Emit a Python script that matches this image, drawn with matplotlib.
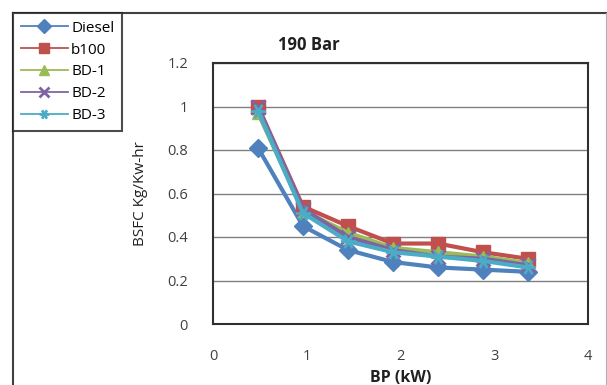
import matplotlib
matplotlib.use("Agg")
import matplotlib.pyplot as plt
from matplotlib.lines import Line2D
from matplotlib.path import Path

bp = [0.48, 0.96, 1.44, 1.92, 2.40, 2.88, 3.36]
diesel = [0.81, 0.45, 0.34, 0.285, 0.26, 0.25, 0.24]
b100 = [1.00, 0.54, 0.45, 0.37, 0.37, 0.33, 0.30]
bd1 = [0.97, 0.52, 0.42, 0.35, 0.33, 0.31, 0.28]
bd2 = [1.00, 0.53, 0.40, 0.34, 0.31, 0.30, 0.27]
bd3 = [0.98, 0.51, 0.38, 0.33, 0.31, 0.29, 0.26]
series_names = ["Diesel", "b100", "BD-1", "BD-2", "BD-3"]
x_ticks = [0, 1, 2, 3, 4]
y_ticks = [0, 0.2, 0.4, 0.6, 0.8, 1, 1.2]
y_ticklabels = ["0", "0.2", "0.4", "0.6", "0.8", "1", "1.2"]

plt.rcParams['font.family'] = ['Open Sans', 'DejaVu Sans']

fig = plt.figure(figsize=(6.07, 3.85), dpi=100)
W, H = 607, 385

# chart frame
fig.add_artist(Line2D([13/W, 1], [1-13/H, 1-13/H], transform=fig.transFigure, color='#404040', lw=1.5))
fig.add_artist(Line2D([13/W, 13/W], [0, 1-13/H], transform=fig.transFigure, color='#404040', lw=1.5))
fig.add_artist(Line2D([606/W, 606/W], [0, 1-13/H], transform=fig.transFigure, color='#b0b0b0', lw=0.8))

ax = fig.add_axes([213/W, 1-324/H, (588-213)/W, (324-63)/H])

# asterisk marker: three crossing strokes
ast = Path([(-1, 0), (1, 0), (-0.5, -0.87), (0.5, 0.87), (-0.5, 0.87), (0.5, -0.87)],
           [Path.MOVETO, Path.LINETO, Path.MOVETO, Path.LINETO, Path.MOVETO, Path.LINETO])

colors = ['#4F81BD', '#C0504D', '#9BBB59', '#8064A2', '#4BACC6']
markers = ['D', 's', '^', 'x', ast]
msizes = [9, 10, 9, 10, 11]
data = [diesel, b100, bd1, bd2, bd3]
handles = []
for name, vals, c, m, ms in zip(series_names, data, colors, markers, msizes):
    mew = 2 if (m == 'x' or isinstance(m, Path)) else 1
    h, = ax.plot(bp, vals, color=c, lw=3.0, marker=m, markersize=ms,
                 markeredgewidth=mew, label=name, zorder=3)
    handles.append(h)

ax.set_xlim(0, 4)
ax.set_ylim(0, 1.2)
ax.set_xticks(x_ticks)
ax.set_yticks(y_ticks)
ax.set_yticklabels(y_ticklabels)
ax.tick_params(length=0, labelsize=10.5, colors='#404040')
ax.tick_params(axis='y', pad=18)
ax.tick_params(axis='x', pad=18)
ax.grid(axis='y', color='#808080', lw=1)
ax.set_axisbelow(True)
for s in ax.spines.values():
    s.set_color('#303030')
    s.set_linewidth(1.5)

ax.set_ylabel("BSFC Kg/Kw-hr", fontsize=11, color='#202020', labelpad=14)
ax.set_xlabel("BP (kW)", fontsize=11.5, color='#202020', fontweight='bold', labelpad=4)
fig.text(309/W, 1-45/H, "190 Bar", fontsize=12, fontweight='bold', ha='center', va='center', color='#202020')

# legend
leg = fig.legend(handles=handles, loc='upper left', bbox_to_anchor=(13/W, 1-13/H),
                 fontsize=11, frameon=True, fancybox=False, borderpad=0.5,
                 labelspacing=0.45, handlelength=3.1, handletextpad=0.2,
                 borderaxespad=0)
for h in leg.legend_handles:
    h.set_linewidth(1.3)
    h.set_markersize(7)
leg.get_frame().set_edgecolor('#202020')
leg.get_frame().set_linewidth(1.5)

fig.savefig("out.png", dpi=100)
